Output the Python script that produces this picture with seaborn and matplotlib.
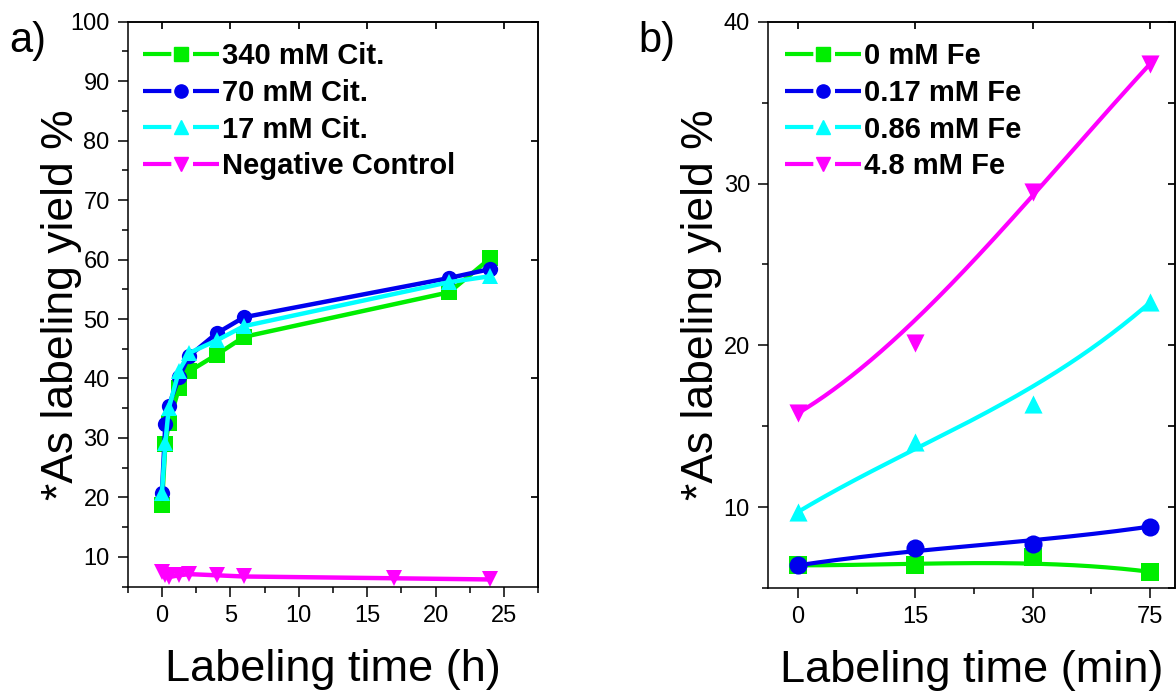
import numpy as np
import pandas as pd
import matplotlib
matplotlib.use('Agg')
import matplotlib.pyplot as plt
import seaborn as sns
from matplotlib.lines import Line2D
from matplotlib.ticker import MultipleLocator

# panel a: labeling time in hours
hours = [0, 0.25, 0.5, 1.25, 2, 4, 6, 21, 24]
cit340 = [18.7, 28.9, 32.5, 38.4, 41.2, 44.0, 47.0, 54.5, 60.2]
cit70 = [20.7, 32.4, 35.4, 40.2, 43.8, 47.6, 50.3, 56.9, 58.4]
cit17 = [20.7, 29.2, 35.0, 41.3, 44.3, 46.4, 48.8, 56.2, 57.2]
neg_hours = [0, 0.25, 0.5, 1.25, 2, 4, 6, 17, 24]
neg_ctrl = [7.4, 6.9, 6.6, 6.9, 7.1, 6.9, 6.7, 6.4, 6.2]

# panel b: labeling time in minutes (categorical axis)
minutes = ['0', '15', '30', '75']
fe0 = [6.4, 6.4, 6.9, 6.0]
fe017 = [6.4, 7.5, 7.75, 8.8]
fe086 = [9.7, 14.05, 16.35, 22.65]
fe48 = [15.8, 20.15, 29.5, 37.4]

GREEN, BLUE, CYAN, MAGENTA = '#00ee00', '#0000ee', '#00ffff', '#ff00ff'

sns.set_theme(style='ticks')
plt.rcParams['font.family'] = ['Liberation Sans', 'DejaVu Sans']
plt.rcParams['axes.linewidth'] = 1.1
for key in ['text.color', 'axes.labelcolor', 'xtick.color', 'ytick.color',
            'axes.edgecolor']:
    plt.rcParams[key] = 'black'

fig = plt.figure(figsize=(11.76, 7), dpi=100)
ax1 = fig.add_axes([0.1086, 0.162, 0.349, 0.807])
ax2 = fig.add_axes([0.653, 0.16, 0.346, 0.809])


def bspline(ys, n=200):
    """Cubic Bezier / B-spline through 4 control points, like Origin's B-spline."""
    t = np.linspace(0, 1, n)
    basis = [(1 - t) ** 3, 3 * t * (1 - t) ** 2, 3 * t ** 2 * (1 - t), t ** 3]
    xs = np.arange(len(ys))
    bx = sum(b * x for b, x in zip(basis, xs))
    by = sum(b * y for b, y in zip(basis, ys))
    return bx, by


def legend_handle(color, marker, ms):
    line = Line2D([], [], color=color, lw=3, linestyle=(0, (6.8, 5.2)))
    mark = Line2D([], [], color=color, marker=marker, ms=ms, linestyle='none')
    return (line, mark)


def style_axes(ax):
    ax.tick_params(axis='both', which='major', direction='out', length=7, width=1.1,
                   labelsize=17, pad=6, colors='black')
    ax.tick_params(axis='both', which='minor', direction='out', length=4, width=1.1,
                   colors='black')
    for side in ['top', 'right']:
        ax.spines[side].set_visible(True)
    for s in ax.spines.values():
        s.set_color('black')
    top = ax.secondary_xaxis('top')
    top.set_xticks(ax.get_xticks(minor=False))
    top.tick_params(direction='in', length=5, labeltop=False)
    right = ax.secondary_yaxis('right')
    right.tick_params(direction='in', length=5, labelright=False)


legend_kw = dict(loc='upper left', frameon=False, prop={'weight': 'bold', 'size': 21},
                 handlelength=2.6, handletextpad=0.1, labelspacing=0.3,
                 borderaxespad=0.2)

# ---- panel a ----
series_a = [(cit340, hours, GREEN, 's', '340 mM Cit.'),
            (cit70, hours, BLUE, 'o', '70 mM Cit.'),
            (cit17, hours, CYAN, '^', '17 mM Cit.'),
            (neg_ctrl, neg_hours, MAGENTA, 'v', 'Negative Control')]
for ys, xs, c, m, lab in series_a:
    sns.lineplot(x=xs, y=ys, ax=ax1, color=c, lw=3.2, marker=m, markersize=11,
                 markeredgewidth=0, sort=False)

ax1.set_xlim(-2.5, 27.5)
ax1.set_ylim(5, 100)
ax1.xaxis.set_major_locator(MultipleLocator(5))
ax1.xaxis.set_minor_locator(MultipleLocator(2.5))
ax1.yaxis.set_major_locator(MultipleLocator(10))
ax1.yaxis.set_minor_locator(MultipleLocator(5))
ax1.set_yticks(range(10, 101, 10))
style_axes(ax1)
ax1.set_xlabel('Labeling time (h)', fontsize=32.5)
ax1.set_ylabel('*As labeling yield %', fontsize=32)
ax1.xaxis.set_label_coords(0.5, -0.11)
ax1.yaxis.set_label_coords(-0.112, 0.5)
ax1.legend([legend_handle(c, m, 9.5) for _, _, c, m, _ in series_a],
           [lab for *_, lab in series_a], bbox_to_anchor=(-0.005, 0.995), **legend_kw)

# ---- panel b ----
series_b = [(fe0, GREEN, 's', '0 mM Fe'),
            (fe017, BLUE, 'o', '0.17 mM Fe'),
            (fe086, CYAN, '^', '0.86 mM Fe'),
            (fe48, MAGENTA, 'v', '4.8 mM Fe')]
pos = np.arange(len(minutes))
for ys, c, m, lab in series_b:
    bx, by = bspline(ys)
    sns.lineplot(x=bx, y=by, ax=ax2, color=c, lw=3, sort=False)
    sns.scatterplot(x=pos, y=ys, ax=ax2, color=c, marker=m, s=170, linewidth=0,
                    zorder=3)

ax2.set_xlim(-0.256, 3.21)
ax2.set_ylim(5, 40)
ax2.set_xticks(pos)
ax2.set_xticklabels(minutes)
ax2.xaxis.set_minor_locator(MultipleLocator(0.5))
ax2.set_yticks([10, 20, 30, 40])
ax2.yaxis.set_minor_locator(MultipleLocator(5))
style_axes(ax2)
ax2.set_xlabel('Labeling time (min)', fontsize=32.5)
ax2.set_ylabel('*As labeling yield %', fontsize=32)
ax2.xaxis.set_label_coords(0.5, -0.11)
ax2.yaxis.set_label_coords(-0.113, 0.5)
ax2.legend([legend_handle(c, m, 9.5) for _, c, m, _ in series_b],
           [lab for *_, lab in series_b], bbox_to_anchor=(0.0, 0.995), **legend_kw)

fig.text(0.008, 0.97, 'a)', fontsize=30, va='top')
fig.text(0.543, 0.97, 'b)', fontsize=30, va='top')

fig.savefig('out.png', dpi=100)
